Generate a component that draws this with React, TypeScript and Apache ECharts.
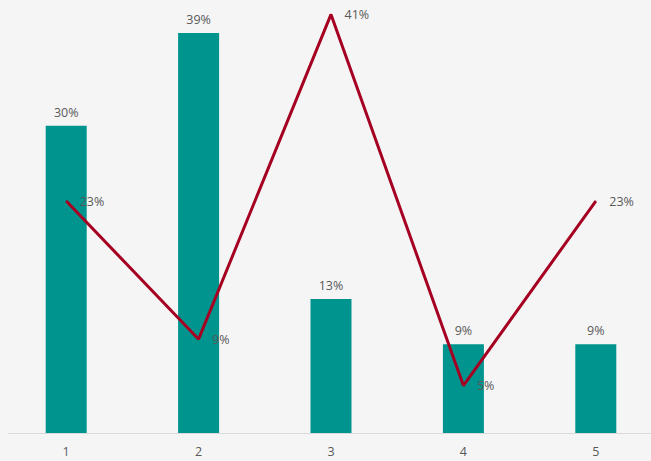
import React, { useEffect, useRef } from "react";
import * as echarts from "echarts";

const categories = ["1", "2", "3", "4", "5"];
const barValues = [29.8, 38.8, 13.0, 8.6, 8.6];
const lineValues = [22.5, 9.1, 40.6, 4.6, 22.5];

export default function App() {
  const ref = useRef<HTMLDivElement>(null);
  useEffect(() => {
    if (!ref.current) return;
    const chart = echarts.init(ref.current, null, { renderer: "svg" });
    const fmt = (p: any) => Math.round(p.value) + "%";
    chart.setOption({
      animation: false,
      backgroundColor: "#f5f5f5",
      textStyle: { fontFamily: "Open Sans" },
      grid: { left: 0, top: 0, right: 0, bottom: 28 },
      graphic: [
        {
          type: "line",
          shape: { x1: 8, y1: 433.5, x2: 662, y2: 433.5 },
          style: { stroke: "#d9d9d9", lineWidth: 1 },
          z: 0,
        },
      ],
      xAxis: {
        type: "category",
        data: categories,
        axisLine: { show: false },
        axisTick: { show: false },
        axisLabel: { color: "#595959", fontSize: 12.5, margin: 12, fontFamily: "Open Sans" },
      },
      yAxis: {
        type: "value",
        min: 0,
        max: 42,
        show: false,
        splitLine: { show: false },
      },
      series: [
        {
          type: "bar",
          data: barValues,
          barWidth: 41,
          itemStyle: { color: "#00948f" },
          label: {
            show: true,
            position: "top",
            distance: 7,
            formatter: fmt,
            color: "#595959",
            fontSize: 12.5,
            fontFamily: "Open Sans",
          },
        },
        {
          type: "line",
          data: lineValues,
          symbol: "circle",
          symbolSize: 1,
          showSymbol: true,
          itemStyle: { color: "#a50021" },
          lineStyle: { color: "#a50021", width: 3 },
          label: {
            show: true,
            position: "right",
            distance: 13,
            formatter: fmt,
            color: "#595959",
            fontSize: 12.5,
            fontFamily: "Open Sans",
          },
        },
      ],
    });
    return () => chart.dispose();
  }, []);
  return (
    <div
      style={{
        position: "fixed",
        left: 0,
        top: 0,
        width: 651,
        height: 461,
        overflow: "hidden",
        background: "#f5f5f5",
      }}
    >
      <div ref={ref} style={{ width: 662, height: 461 }} />
    </div>
  );
}
